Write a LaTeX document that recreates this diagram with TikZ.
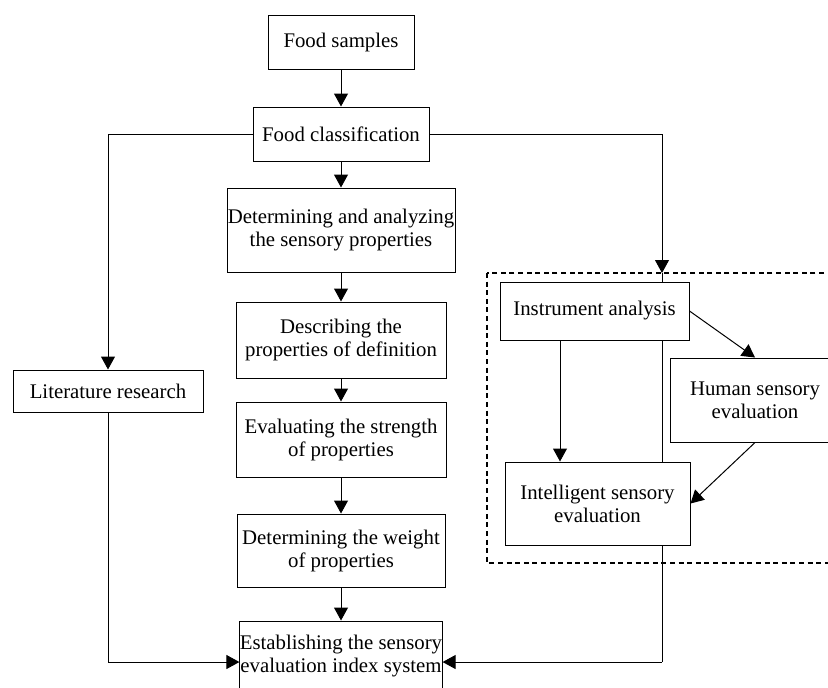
\documentclass[tikz,border=0pt]{standalone}
\usepackage{fontspec}
\setmainfont{Liberation Serif}
\usetikzlibrary{arrows.meta}

\begin{document}
\begin{tikzpicture}[scale=1.000000,x=0.5pt,y=-0.5pt,
  blk/.style={draw=black,fill=white,line width=0.5pt,inner sep=0pt,align=center,
    font=\fontsize{10.4}{11.5}\selectfont},
  wire/.style={draw=black,line width=0.5pt},
  arr/.style={wire,-{Triangle[width=7pt,length=6.5pt]}},
  dashbox/.style={draw=black,line width=0.8pt,dash pattern=on 2.5pt off 1.8pt}]
\useasboundingbox (0.000000,0.000000) rectangle (828.000000,687.000000);
% Drawing the middle column
\node[blk,minimum width=73pt,minimum height=27pt] (samples) at (341.000000,42.000000) {Food samples};
\node[blk,minimum width=88pt,minimum height=27pt] (classif) at (341.000000,134.000000) {Food classification};
\node[blk,minimum width=114pt,minimum height=42pt] (analyze) at (341.000000,230.000000) {Determining and analyzing\\the sensory properties};
\node[blk,minimum width=105pt,minimum height=38pt] (describe) at (341.000000,340.000000) {Describing the\\properties of definition};
\node[blk,minimum width=105pt,minimum height=37.5pt] (strength) at (341.000000,439.500000) {Evaluating the strength\\of properties};
\node[blk,minimum width=104pt,minimum height=36.5pt] (weight) at (341.000000,550.500000) {Determining the weight\\of properties};
\node[blk,minimum width=101pt,minimum height=35.5pt] (establish) at (341.000000,656.500000) {Establishing the sensory\\evaluation index system};
\draw[arr] (samples.south) -- (classif.north);
\draw[arr] (classif.south) -- (analyze.north);
\draw[arr] (analyze.south) -- (describe.north);
\draw[arr] (describe.south) -- (strength.north);
\draw[arr] (strength.south) -- (weight.north);
\draw[arr] (weight.south) -- (establish.north);
% Done with middle column; drawing left branch
\node[blk,minimum width=95pt,minimum height=21pt] (literature) at (108.000000,391.000000) {Literature research};
\coordinate (leftturn) at (108.000000,662.000000);
\draw[arr] (classif.west) -| (literature.north);
\draw[arr] (literature.south) -- (leftturn) -- (leftturn -| establish.west);
% Drawing right branch: dashed frame, then the long wire under the boxes
\draw[dashbox] (487.000000,273.000000) rectangle (860.000000,563.000000);
\coordinate (rightin) at (662.000000,273.000000);
\coordinate (rightturn) at (662.000000,662.000000);
\draw[arr] (classif.east) -| (rightin);
\draw[wire] (rightin) -- (rightturn);
\draw[arr] (rightturn) -- (rightturn -| establish.east);
% Boxes inside the frame
\node[blk,minimum width=94.5pt,minimum height=29pt] (instrument) at (594.500000,311.000000) {Instrument analysis};
\node[blk,minimum width=85pt,minimum height=42pt] (human) at (755.000000,400.000000) {Human sensory\\evaluation};
\node[blk,minimum width=92.5pt,minimum height=41.5pt] (intelligent) at (597.500000,503.500000) {Intelligent sensory\\evaluation};
\coordinate (dropx) at (560.000000,0.000000);
\draw[arr] (instrument.south -| dropx) -- (intelligent.north -| dropx);
\draw[arr] (instrument.east) -- (human.north);
\draw[arr] (human.south) -- (intelligent.east);
% Done with right branch
\end{tikzpicture}
\end{document}
